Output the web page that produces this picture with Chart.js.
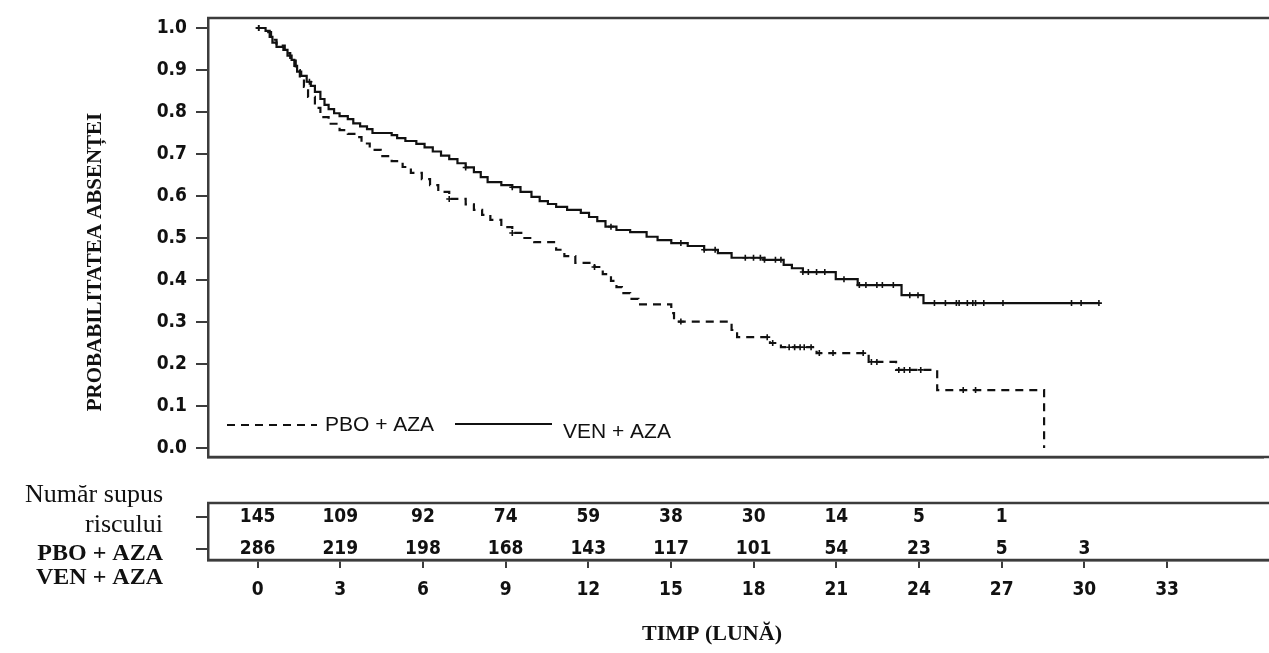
<!DOCTYPE html>
<html>
<head>
<meta charset="utf-8">
<title>Supravieţuire – PBO + AZA vs VEN + AZA</title>
<script src="https://cdn.jsdelivr.net/npm/chart.js@4.4.1/dist/chart.umd.min.js"></script>
<style>
  html, body { margin: 0; padding: 0; background: #fff; overflow: hidden; }
  #wrap { position: relative; width: 1269px; height: 653px; }
  canvas { position: absolute; left: 0; }
  #km { top: 0; }
  #risk { top: 470px; }
</style>
</head>
<body>
<div id="wrap">
  <canvas id="km" width="1269" height="470"></canvas>
  <canvas id="risk" width="1269" height="183"></canvas>
</div>
<script>
// ─── Data ────────────────────────────────────────────────────────────────────

const SERIES_LABELS = ['PBO + AZA', 'VEN + AZA'];

// Kaplan-Meier step points: time (months) -> survival after the drop
const PBO_TIME = [0, 0.3, 0.5, 0.7, 1.0, 1.2, 1.4, 1.55, 1.7, 1.85, 2.1, 2.3, 2.6, 3.0, 3.3, 3.6, 3.8,
  4.1, 4.5, 4.9, 5.3, 5.6, 6.0, 6.3, 6.6, 7.0, 7.6, 7.9, 8.2, 8.5, 8.9, 9.3, 9.7, 10.1, 10.9, 11.2,
  11.6, 12.3, 12.6, 12.9, 13.1, 13.3, 13.6, 13.9, 15.1, 15.2, 17.3, 17.5, 18.7, 19.1, 20.4, 22.3,
  23.3, 24.8, 28.7];
const PBO_SURV = [1.0, 0.990, 0.972, 0.958, 0.940, 0.925, 0.900, 0.885, 0.860, 0.836, 0.810, 0.788,
  0.772, 0.757, 0.748, 0.740, 0.725, 0.710, 0.695, 0.683, 0.669, 0.655, 0.640, 0.626, 0.610, 0.593,
  0.580, 0.567, 0.555, 0.543, 0.526, 0.512, 0.500, 0.490, 0.472, 0.457, 0.441, 0.431, 0.414, 0.398,
  0.383, 0.369, 0.355, 0.342, 0.321, 0.301, 0.281, 0.264, 0.250, 0.240, 0.226, 0.205, 0.186, 0.138,
  0.0];

const VEN_TIME = [0, 0.3, 0.45, 0.55, 0.7, 0.95, 1.1, 1.25, 1.35, 1.45, 1.6, 1.8, 1.95, 2.1, 2.3,
  2.45, 2.6, 2.8, 3.0, 3.3, 3.5, 3.75, 4.0, 4.2, 4.9, 5.1, 5.4, 5.8, 6.1, 6.4, 6.7, 7.0, 7.3, 7.6,
  7.9, 8.15, 8.4, 8.9, 9.3, 9.6, 10.0, 10.3, 10.6, 10.9, 11.3, 11.8, 12.1, 12.4, 12.7, 13.1, 13.6,
  14.2, 14.6, 15.1, 15.7, 16.3, 16.8, 17.3, 18.5, 19.2, 19.5, 19.9, 21.1, 21.9, 23.5, 24.3, 30.7];
const VEN_SURV = [1.0, 0.993, 0.979, 0.965, 0.955, 0.948, 0.934, 0.924, 0.910, 0.896, 0.886, 0.872,
  0.862, 0.848, 0.831, 0.817, 0.807, 0.797, 0.790, 0.783, 0.773, 0.766, 0.759, 0.750, 0.745, 0.738,
  0.731, 0.724, 0.716, 0.706, 0.696, 0.688, 0.678, 0.668, 0.657, 0.645, 0.633, 0.626, 0.621, 0.610,
  0.598, 0.588, 0.581, 0.574, 0.567, 0.560, 0.550, 0.540, 0.527, 0.519, 0.514, 0.503, 0.495, 0.488,
  0.481, 0.472, 0.464, 0.453, 0.448, 0.436, 0.428, 0.419, 0.402, 0.388, 0.364, 0.345, 0.345];

// censored observations (months)
const PBO_CENSOR = [0.05, 7.0, 9.3, 12.3, 15.45, 18.6, 18.8, 19.4, 19.6, 19.8, 19.95, 20.2, 20.5,
  21.0, 22.1, 22.4, 22.6, 23.4, 23.6, 23.8, 24.2, 25.75, 26.2];
const VEN_CENSOR = [0.05, 1.9, 7.6, 9.3, 12.9, 15.45, 16.3, 16.7, 17.8, 18.1, 18.35, 18.5, 18.9,
  19.1, 19.9, 20.1, 20.4, 20.7, 21.4, 21.96, 22.2, 22.6, 22.8, 23.2, 23.8, 24.1, 24.7, 25.1, 25.5,
  25.6, 25.9, 26.1, 26.2, 26.5, 27.2, 29.7, 30.05, 30.7];

// number at risk
const RISK_TIMES = [0, 3, 6, 9, 12, 15, 18, 21, 24, 27, 30];
const RISK_PBO = [145, 109, 92, 74, 59, 38, 30, 14, 5, 1];
const RISK_VEN = [286, 219, 198, 168, 143, 117, 101, 54, 23, 5, 3];

const X_TICKS = [0, 3, 6, 9, 12, 15, 18, 21, 24, 27, 30, 33];
const Y_TICKS = [0, 0.1, 0.2, 0.3, 0.4, 0.5, 0.6, 0.7, 0.8, 0.9, 1.0];

// ─── Styling ─────────────────────────────────────────────────────────────────

const INK = '#111';
const AXIS = '#3c3c3c';
const TICK_FONT = { family: "'DejaVu Sans Condensed', 'DejaVu Sans', sans-serif", size: 19, weight: 'bold' };
const SERIF = "'Liberation Serif', 'Times New Roman', serif";
const SANS = "'Liberation Sans', Arial, sans-serif";
const X_MIN = -1.8, X_MAX = 36.7;

// ─── Helpers ─────────────────────────────────────────────────────────────────

function toXY(times, values) {
  return times.map((t, i) => ({ x: t, y: values[i] }));
}

function survivalAt(times, values, t) {
  let v = values[0];
  for (let i = 0; i < times.length; i++) {
    if (times[i] <= t) v = values[i]; else break;
  }
  return v;
}

function censorXY(censor, times, values) {
  return censor.map(t => ({ x: t, y: survivalAt(times, values, t) }));
}

// keep the plot box exactly where the figure has it
function noPad(s) {
  s.paddingTop = 0;
  s.paddingBottom = 0;
  s.paddingLeft = 0;
  s.paddingRight = 0;
}

function hline(ctx, x1, x2, y, width, dash, color) {
  ctx.save();
  ctx.strokeStyle = color || INK;
  ctx.lineWidth = width;
  ctx.setLineDash(dash || []);
  ctx.beginPath();
  ctx.moveTo(x1, y);
  ctx.lineTo(x2, y);
  ctx.stroke();
  ctx.restore();
}

function text(ctx, str, x, y, font, align) {
  ctx.save();
  ctx.fillStyle = INK;
  ctx.font = font;
  ctx.textAlign = align || 'left';
  ctx.textBaseline = 'middle';
  ctx.fillText(str, x, y);
  ctx.restore();
}

// the box is open on the right: top and bottom run off the page
function boxEdges(chart) {
  const { ctx, chartArea } = chart;
  hline(ctx, chartArea.left - 1, chart.width, chartArea.top, 2.5, null, AXIS);
  hline(ctx, chartArea.left - 1, chart.width, chartArea.bottom, 2.5, null, AXIS);
}

// ─── Survival plot ───────────────────────────────────────────────────────────

const kmDecor = {
  id: 'kmDecor',
  afterDraw(chart) {
    const { ctx, chartArea } = chart;
    boxEdges(chart);

    // legend inside the plot
    const L = chartArea.left;
    hline(ctx, L + 19, L + 109, 425, 2, [8, 6]);
    text(ctx, SERIES_LABELS[0], L + 117, 425, `21px ${SANS}`);
    hline(ctx, L + 247, L + 344, 424, 2);
    text(ctx, SERIES_LABELS[1], L + 355, 432, `21px ${SANS}`);

    // y-axis title
    ctx.save();
    ctx.translate(96, 262);
    ctx.rotate(-Math.PI / 2);
    text(ctx, 'PROBABILITATEA ABSENȚEI', 0, 0, `bold 21px ${SERIF}`, 'center');
    ctx.restore();
  }
};

new Chart(document.getElementById('km'), {
  type: 'scatter',
  data: {
    datasets: [
      {
        label: SERIES_LABELS[0],
        data: toXY(PBO_TIME, PBO_SURV),
        showLine: true,
        stepped: 'before',
        borderColor: INK,
        borderWidth: 2.2,
        borderDash: [8, 6],
        pointRadius: 0,
      },
      {
        label: SERIES_LABELS[1],
        data: toXY(VEN_TIME, VEN_SURV),
        showLine: true,
        stepped: 'before',
        borderColor: INK,
        borderWidth: 2.2,
        pointRadius: 0,
      },
      {
        data: censorXY(PBO_CENSOR, PBO_TIME, PBO_SURV),
        pointStyle: 'cross',
        pointRadius: 3,
        borderColor: INK,
        borderWidth: 1.6,
      },
      {
        data: censorXY(VEN_CENSOR, VEN_TIME, VEN_SURV),
        pointStyle: 'cross',
        pointRadius: 3,
        borderColor: INK,
        borderWidth: 1.6,
      },
    ]
  },
  options: {
    responsive: false,
    animation: false,
    layout: { padding: { top: 18, left: 0, right: 0, bottom: 0 } },
    plugins: { legend: { display: false }, tooltip: { enabled: false } },
    scales: {
      x: {
        type: 'linear',
        min: X_MIN,
        max: X_MAX,
        afterFit: s => { s.height = 13; noPad(s); },
        ticks: { display: false },
        grid: { display: false },
        border: { display: true, color: AXIS, width: 2.5 },
      },
      y: {
        min: -0.0214,
        max: 1.0238,
        afterBuildTicks: s => { s.ticks = Y_TICKS.map(v => ({ value: v })); },
        afterFit: s => { s.width = 208; noPad(s); },
        ticks: { font: TICK_FONT, color: INK, padding: 9, callback: v => v.toFixed(1) },
        grid: { drawOnChartArea: false, tickLength: 12, color: AXIS, lineWidth: 2 },
        border: { display: true, color: AXIS, width: 2.5 },
      }
    }
  },
  plugins: [kmDecor]
});

// ─── Number-at-risk table ────────────────────────────────────────────────────

const riskDecor = {
  id: 'riskDecor',
  afterDraw(chart) {
    const { ctx, scales: { x, y } } = chart;
    boxEdges(chart);

    const tickFont = `bold ${TICK_FONT.size}px ${TICK_FONT.family}`;
    [RISK_PBO, RISK_VEN].forEach((row, r) => {
      row.forEach((n, i) => {
        text(ctx, String(n), x.getPixelForValue(RISK_TIMES[i]), y.getPixelForValue(r + 1), tickFont, 'center');
      });
    });

    // row captions
    text(ctx, 'Număr supus', 163, 25, `26px ${SERIF}`, 'right');
    text(ctx, 'riscului', 163, 55, `26px ${SERIF}`, 'right');
    text(ctx, SERIES_LABELS[0], 163, 84, `bold 24px ${SERIF}`, 'right');
    text(ctx, SERIES_LABELS[1], 163, 108, `bold 24px ${SERIF}`, 'right');

    // x-axis title
    text(ctx, 'TIMP (LUNĂ)', 712, 164, `bold 22px ${SERIF}`, 'center');
  }
};

new Chart(document.getElementById('risk'), {
  type: 'scatter',
  data: { datasets: [] },
  options: {
    responsive: false,
    animation: false,
    layout: { padding: { top: 33, left: 0, right: 0, bottom: 0 } },
    plugins: { legend: { display: false }, tooltip: { enabled: false } },
    scales: {
      x: {
        type: 'linear',
        min: X_MIN,
        max: X_MAX,
        afterBuildTicks: s => { s.ticks = X_TICKS.map(v => ({ value: v })); },
        afterFit: s => { s.height = 93; noPad(s); },
        ticks: { font: TICK_FONT, color: INK, padding: 11, autoSkip: false, maxRotation: 0 },
        grid: { drawOnChartArea: false, tickLength: 8, color: AXIS, lineWidth: 2 },
        border: { display: true, color: AXIS, width: 2.5 },
      },
      y: {
        min: 0.55,
        max: 2.35,
        reverse: true,
        afterBuildTicks: s => { s.ticks = [1, 2].map(v => ({ value: v })); },
        afterFit: s => { s.width = 208; noPad(s); },
        ticks: { display: false },
        grid: { drawOnChartArea: false, tickLength: 12, color: AXIS, lineWidth: 2 },
        border: { display: true, color: AXIS, width: 2.5 },
      }
    }
  },
  plugins: [riskDecor]
});
</script>
</body>
</html>
